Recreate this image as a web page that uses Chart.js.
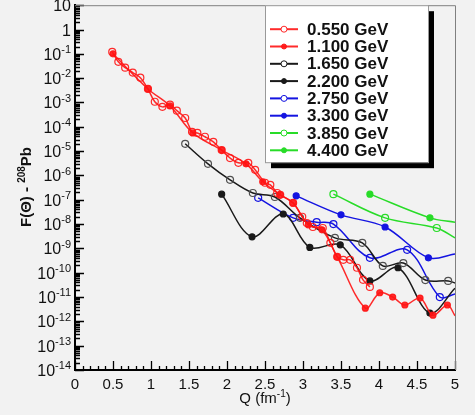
<!DOCTYPE html>
<html>
<head>
<meta charset="utf-8">
<script src="https://cdn.jsdelivr.net/npm/chart.js@4.4.1/dist/chart.umd.min.js"></script>
<style>
html, body { margin: 0; padding: 0; background: #f2f2f2; }
</style>
</head>
<body>
<canvas id="myChart" width="475" height="415"></canvas>
<script>
// Q (fm^-1) and F values, one pair of arrays per beam energy
var q0550 = [0.49, 0.57, 0.66, 0.76, 0.86, 0.96, 1.05, 1.15, 1.25, 1.34, 1.45, 1.54, 1.61, 1.71, 1.82, 1.93, 2.04, 2.15,
             2.28, 2.37, 2.50, 2.57, 2.66, 2.70, 2.87, 2.99, 3.05, 3.13, 3.26, 3.36, 3.45, 3.53, 3.62, 3.71, 3.79, 3.88];
var f0550 = [1.2e-1, 4.7e-2, 2.7e-2, 1.7e-2, 1.05e-2, 3.6e-3, 1.07e-3, 6.6e-4, 8.1e-4, 4.6e-4, 2.3e-4, 6.2e-5, 5.6e-5, 3.9e-5,
             2.4e-5, 1.1e-5, 5.2e-6, 3.3e-6, 3.3e-6, 1.7e-6, 5.0e-7, 4.1e-7, 1.9e-7, 1.6e-7, 7.4e-8, 2.0e-8, 1.1e-8, 7.6e-9,
             6.9e-9, 1.7e-9, 4.5e-10, 3.4e-10, 3.4e-10, 1.6e-10, 5.1e-11, 2.6e-11];

var q1100 = [0.50, 0.96, 1.25, 1.55, 1.93, 2.25, 2.47, 2.70, 2.87, 3.07, 3.25, 3.45, 3.82, 4.01, 4.18, 4.34, 4.54, 4.71, 4.90, 5.0];
var f1100 = [1.0e-1, 3.6e-3, 7.2e-4, 5.6e-5, 1.1e-5, 3.0e-6, 5.5e-7, 1.6e-7, 7.4e-8, 9.3e-9, 5.8e-9, 4.5e-10, 3.5e-12,
             1.5e-11, 1.0e-11, 4.7e-12, 9.1e-12, 1.8e-12, 4.7e-12, 1.7e-12];

var q1650 = [1.45, 1.75, 2.04, 2.34, 2.63, 2.96, 3.42, 3.78, 4.05, 4.32, 4.61, 4.91, 5.0];
var f1650 = [2.0e-5, 3.0e-6, 6.6e-7, 1.9e-7, 1.3e-7, 1.8e-8, 2.7e-9, 1.7e-9, 1.9e-10, 2.5e-10, 5.0e-11, 4.6e-11, 3.8e-11];

var q2200 = [1.93, 2.33, 2.74, 3.09, 3.49, 3.88, 4.25, 4.67, 5.0];
var f2200 = [1.7e-7, 3.0e-9, 2.6e-8, 1.1e-9, 1.4e-9, 4.6e-11, 1.6e-10, 2.2e-12, 2.3e-11];

var q2750 = [2.41, 2.87, 3.18, 3.40, 3.88, 4.37, 4.80, 5.0];
var f2750 = [1.2e-7, 1.8e-8, 1.2e-8, 1.0e-8, 4.1e-10, 8.7e-10, 1.0e-11, 1.35e-11];

var q3300 = [2.91, 3.50, 4.08, 4.65, 5.0];
var f3300 = [1.45e-7, 2.4e-8, 7.6e-9, 4.1e-10, 5.9e-10];

var q3850 = [3.40, 4.08, 4.76, 5.0];
var f3850 = [1.7e-7, 1.8e-8, 6.9e-9, 2.7e-9];

var q4400 = [3.88, 4.67, 5.0];
var f4400 = [1.7e-7, 1.8e-8, 1.2e-8];

var etiquetas = ['0.550 GeV', '1.100 GeV', '1.650 GeV', '2.200 GeV', '2.750 GeV', '3.300 GeV', '3.850 GeV', '4.400 GeV'];

// tick labels: base and superscript drawn separately
var yExponentes = [1, 0, -1, -2, -3, -4, -5, -6, -7, -8, -9, -10, -11, -12, -13, -14];
var yBases = ['10', '1', '10', '10', '10', '10', '10', '10', '10', '10', '10', '10', '10', '10', '10', '10'];
var ySupers = ['', '', '-1', '-2', '-3', '-4', '-5', '-6', '-7', '-8', '-9', '-10', '-11', '-12', '-13', '-14'];
var xTicks = [0, 0.5, 1, 1.5, 2, 2.5, 3, 3.5, 4, 4.5, 5];
var xEtiquetas = ['0', '0.5', '1', '1.5', '2', '2.5', '3', '3.5', '4', '4.5', '5'];

var FUENTE = '"Liberation Sans", Arial, sans-serif';
var ROJO = 'rgba(255, 20, 20, 0.9)';
var NEGRO = 'rgb(25, 25, 25)';
var AZUL = 'rgb(20, 20, 225)';
var VERDE = 'rgb(40, 220, 40)';

function serie(label, qs, fs, color, abierto) {
    return {
        label: label,
        data: qs.map((q, i) => ({ x: q, y: fs[i] })),
        borderColor: color,
        backgroundColor: color,
        borderWidth: 1.5,
        tension: 0.35,
        abierto: abierto,
        pointRadius: c => (c.raw && c.raw.x >= 5) ? 0 : (abierto ? 3.5 : 3),
        pointBackgroundColor: abierto ? 'rgba(0,0,0,0)' : color,
        pointBorderColor: abierto && color === NEGRO ? 'rgb(80,80,80)' : color,
        pointBorderWidth: 1.2
    };
}

var chartData = {
    datasets: [
        serie(etiquetas[0], q0550, f0550, ROJO, true),
        serie(etiquetas[1], q1100, f1100, ROJO, false),
        serie(etiquetas[2], q1650, f1650, NEGRO, true),
        serie(etiquetas[3], q2200, f2200, NEGRO, false),
        serie(etiquetas[4], q2750, f2750, AZUL, true),
        serie(etiquetas[5], q3300, f3300, AZUL, false),
        serie(etiquetas[6], q3850, f3850, VERDE, true),
        serie(etiquetas[7], q4400, f4400, VERDE, false)
    ]
};

// draws a list of [text, isSuperscript] pieces starting at x (left aligned)
function textoMixto(ctx, piezas, x, y, size) {
    piezas.forEach(function (p) {
        var sup = p[1];
        ctx.font = (p[2] || '') + ' ' + (sup ? Math.round(size * 0.68) : size) + 'px ' + FUENTE;
        ctx.fillText(p[0], x, sup ? y - size * 0.42 : y);
        x += ctx.measureText(p[0]).width;
    });
}
function anchoMixto(ctx, piezas, size) {
    var w = 0;
    piezas.forEach(function (p) {
        ctx.font = (p[2] || '') + ' ' + (p[1] ? Math.round(size * 0.68) : size) + 'px ' + FUENTE;
        w += ctx.measureText(p[0]).width;
    });
    return w;
}

// inward ticks (ROOT style), the thin top/right frame, y labels and axis titles
var marcas = {
    id: 'marcas',
    beforeDatasetsDraw(chart) {
        var ctx = chart.ctx, a = chart.chartArea, sx = chart.scales.x, sy = chart.scales.y;
        ctx.save();
        ctx.strokeStyle = '#000';
        ctx.lineWidth = 1.3;
        ctx.beginPath();
        for (var e = -14; e <= 1; e++) {
            for (var m = 1; m <= 9; m++) {
                if (e === 1 && m > 1) break;
                var py = Math.round(sy.getPixelForValue(m * Math.pow(10, e))) + 0.5;
                var len = m === 1 ? 9 : 5;
                ctx.moveTo(a.left, py);
                ctx.lineTo(a.left + len, py);
            }
        }
        for (var i = 0; i <= 50; i++) {
            var px = Math.round(sx.getPixelForValue(i / 10)) + 0.5;
            var l = i % 5 === 0 ? 9 : 4;
            ctx.moveTo(px, a.bottom);
            ctx.lineTo(px, a.bottom - l);
        }
        ctx.stroke();
        ctx.strokeStyle = '#808080';
        ctx.lineWidth = 1;
        ctx.beginPath();
        ctx.moveTo(a.left, a.top + 0.5);
        ctx.lineTo(a.right + 0.5, a.top + 0.5);
        ctx.lineTo(a.right + 0.5, a.bottom);
        ctx.stroke();

        // y tick labels
        ctx.fillStyle = '#111';
        ctx.textBaseline = 'alphabetic';
        ctx.textAlign = 'left';
        yExponentes.forEach(function (e, i) {
            var py = sy.getPixelForValue(Math.pow(10, e));
            var piezas = [[yBases[i], false], [ySupers[i], true]];
            var w = anchoMixto(ctx, piezas, 16);
            textoMixto(ctx, piezas, a.left - 4 - w, py + 6, 16);
        });

        // axis titles
        var tx = [['Q (fm', false], ['-1', true], [')', false]];
        textoMixto(ctx, tx, (a.left + a.right) / 2 - anchoMixto(ctx, tx, 15) / 2, 403, 15);
        var ty = [['F(Θ) - ', false, 'bold'], ['208', true, 'bold'], ['Pb', false, 'bold']];
        ctx.translate(31, 187);
        ctx.rotate(-Math.PI / 2);
        textoMixto(ctx, ty, -anchoMixto(ctx, ty, 15) / 2, 0, 15);
        ctx.restore();
    }
};

// boxed legend with drop shadow, inside the plot
var leyenda = {
    id: 'leyenda',
    afterDraw(chart) {
        var ctx = chart.ctx, a = chart.chartArea;
        var bx = a.left + 190, by = a.top, bw = 163, bh = 157;
        ctx.save();
        ctx.fillStyle = '#000';
        ctx.fillRect(bx + 6, by + 6, bw, bh);
        ctx.fillStyle = '#fff';
        ctx.fillRect(bx, by, bw, bh);
        ctx.strokeStyle = '#999';
        ctx.lineWidth = 1;
        ctx.strokeRect(bx + 0.5, by + 0.5, bw, bh);
        ctx.font = 'bold 17px ' + FUENTE;
        ctx.textBaseline = 'middle';
        chart.data.datasets.forEach(function (ds, i) {
            var cy = by + 24 + i * 17.3;
            ctx.strokeStyle = ds.borderColor;
            ctx.lineWidth = 2;
            ctx.beginPath();
            ctx.moveTo(bx + 5, cy);
            ctx.lineTo(bx + 33, cy);
            ctx.stroke();
            ctx.beginPath();
            ctx.arc(bx + 19, cy, ds.abierto ? 3 : 2.5, 0, Math.PI * 2);
            ctx.fillStyle = ds.abierto ? '#fff' : ds.borderColor;
            ctx.fill();
            ctx.lineWidth = 1;
            ctx.stroke();
            ctx.fillStyle = '#111';
            ctx.fillText(ds.label, bx + 42, cy + 1);
        });
        ctx.restore();
    }
};

var ctx = document.getElementById('myChart').getContext('2d');

var myChart = new Chart(ctx, {
    type: 'line',
    data: chartData,
    plugins: [marcas, leyenda],
    options: {
        responsive: false,
        animation: false,
        layout: { padding: { top: 5, right: 20, bottom: 0, left: 0 } },
        plugins: {
            legend: { display: false },
            tooltip: { enabled: false }
        },
        scales: {
            x: {
                type: 'linear',
                min: 0,
                max: 5,
                afterBuildTicks: s => { s.ticks = xTicks.map(v => ({ value: v })); },
                afterFit: s => { s.height = 45; s.paddingLeft = 0; s.paddingRight = 0; },
                grid: { display: false, drawTicks: false },
                border: { display: true, color: '#000', width: 2 },
                ticks: {
                    padding: 6,
                    color: '#111',
                    maxRotation: 0,
                    font: { family: FUENTE, size: 15 },
                    callback: (v, i) => xEtiquetas[i]
                }
            },
            y: {
                type: 'logarithmic',
                min: 1e-14,
                max: 10,
                afterBuildTicks: s => { s.ticks = yExponentes.map(e => ({ value: Math.pow(10, e) })); },
                afterFit: s => { s.width = 75; s.paddingTop = 0; s.paddingBottom = 0; },
                grid: { display: false, drawTicks: false },
                border: { display: true, color: '#000', width: 2 },
                ticks: { display: false }
            }
        }
    }
});
</script>
</body>
</html>
